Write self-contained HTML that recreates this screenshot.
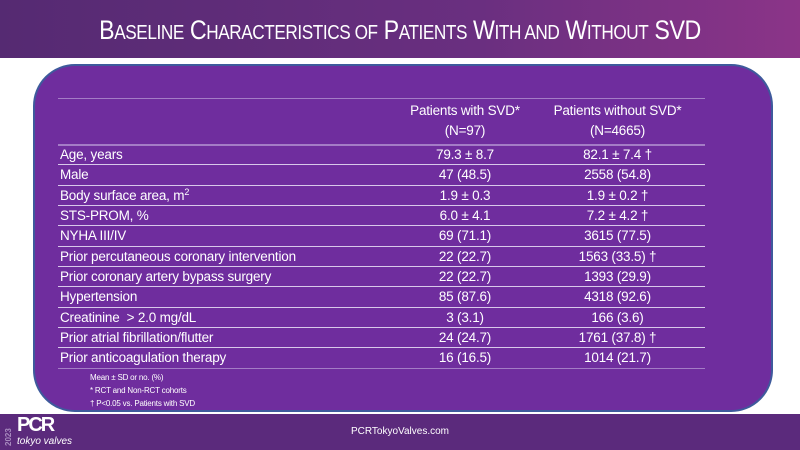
<!DOCTYPE html>
<html><head><meta charset="utf-8"><style>
*{margin:0;padding:0;box-sizing:border-box}
body{width:800px;height:450px;overflow:hidden;background:#fff;position:relative;font-family:"Liberation Sans",sans-serif;color:#fff}
.hdr{position:absolute;left:0;top:0;width:800px;height:58px;background:linear-gradient(90deg,#552a72 0%,#6a2f80 60%,#8b3488 100%)}
.hdr h1{font-weight:normal;font-size:27px;text-align:center;line-height:60px;letter-spacing:-0.5px;transform:scaleX(0.86);white-space:nowrap}
.hdr h1 small{font-size:20px}
.panel{position:absolute;left:33px;top:64px;width:740px;height:348px;background:#6f2d9e;border:2px solid #3e5a9c;border-radius:42px}
.ln{position:absolute;left:58px;width:647px;height:1px;background:#a47cc6}
.t{position:absolute;font-size:13.5px;white-space:nowrap;line-height:20px;letter-spacing:-0.2px}
.c1{left:395px;width:140px;text-align:center}
.c2{left:545px;width:145px;text-align:center}
.foot{position:absolute;left:0;top:414px;width:800px;height:36px;background:#5b2a7c}
.note{position:absolute;left:90px;font-size:8px;letter-spacing:-0.2px}
sup{font-size:9px;line-height:0;vertical-align:5px}
</style></head><body>
<div class="hdr"><h1>B<small>ASELINE</small> C<small>HARACTERISTICS OF</small> P<small>ATIENTS</small> W<small>ITH AND</small> W<small>ITHOUT</small> SVD</h1></div>
<div class="panel"></div>
<div class="ln" style="top:98px"></div>
<div class="ln" style="top:144px;height:2px"></div>
<div class="t c1" style="top:101px">Patients with SVD*<br>(N=97)</div>
<div class="t c2" style="top:101px">Patients without SVD*<br>(N=4665)</div>

<div class="t" style="left:60px;top:145px">Age, years</div><div class="t c1" style="top:145px">79.3 ± 8.7</div><div class="t c2" style="top:145px">82.1 ± 7.4 †</div>
<div class="ln" style="top:164px;background:#d8c8ea"></div>
<div class="t" style="left:60px;top:165px">Male</div><div class="t c1" style="top:165px">47 (48.5)</div><div class="t c2" style="top:165px">2558 (54.8)</div>
<div class="ln" style="top:185px;background:#d8c8ea"></div>
<div class="t" style="left:60px;top:186px">Body surface area, m<sup>2</sup></div><div class="t c1" style="top:186px">1.9 ± 0.3</div><div class="t c2" style="top:186px">1.9 ± 0.2 †</div>
<div class="ln" style="top:205px;background:#d8c8ea"></div>
<div class="t" style="left:60px;top:206px">STS-PROM, %</div><div class="t c1" style="top:206px">6.0 ± 4.1</div><div class="t c2" style="top:206px">7.2 ± 4.2 †</div>
<div class="ln" style="top:225px;background:#d8c8ea"></div>
<div class="t" style="left:60px;top:226px">NYHA III/IV</div><div class="t c1" style="top:226px">69 (71.1)</div><div class="t c2" style="top:226px">3615 (77.5)</div>
<div class="ln" style="top:246px;background:#d8c8ea"></div>
<div class="t" style="left:60px;top:247px">Prior percutaneous coronary intervention</div><div class="t c1" style="top:247px">22 (22.7)</div><div class="t c2" style="top:247px">1563 (33.5) †</div>
<div class="ln" style="top:266px;background:#d8c8ea"></div>
<div class="t" style="left:60px;top:267px">Prior coronary artery bypass surgery</div><div class="t c1" style="top:267px">22 (22.7)</div><div class="t c2" style="top:267px">1393 (29.9)</div>
<div class="ln" style="top:286px;background:#d8c8ea"></div>
<div class="t" style="left:60px;top:287px">Hypertension</div><div class="t c1" style="top:287px">85 (87.6)</div><div class="t c2" style="top:287px">4318 (92.6)</div>
<div class="ln" style="top:307px;background:#d8c8ea"></div>
<div class="t" style="left:60px;top:308px">Creatinine &nbsp;&gt; 2.0 mg/dL</div><div class="t c1" style="top:308px">3 (3.1)</div><div class="t c2" style="top:308px">166 (3.6)</div>
<div class="ln" style="top:327px;background:#d8c8ea"></div>
<div class="t" style="left:60px;top:328px">Prior atrial fibrillation/flutter</div><div class="t c1" style="top:328px">24 (24.7)</div><div class="t c2" style="top:328px">1761 (37.8) †</div>
<div class="ln" style="top:347px;background:#d8c8ea"></div>
<div class="t" style="left:60px;top:348px">Prior anticoagulation therapy</div><div class="t c1" style="top:348px">16 (16.5)</div><div class="t c2" style="top:348px">1014 (21.7)</div>
<div class="ln" style="top:368px"></div>
<div class="note" style="top:373px">Mean ± SD or no. (%)</div>
<div class="note" style="top:386px">* RCT and Non-RCT cohorts</div>
<div class="note" style="top:399px">† P&lt;0.05 vs. Patients with SVD</div>
<div class="foot">
<div style="position:absolute;left:4px;top:4px;width:10px;height:28px;font-size:8px;color:#a98cc0;writing-mode:vertical-rl;transform:rotate(180deg);font-weight:bold">2023</div>
<div style="position:absolute;left:17px;top:0px;font-size:20px;font-weight:bold;letter-spacing:-2px">PCR</div>
<div style="position:absolute;left:17px;top:22px;font-size:10px;font-style:italic">tokyo valves</div>
<div style="position:absolute;left:0;width:800px;top:12px;text-align:center;font-size:10px">PCRTokyoValves.com</div>
</div>
</body></html>
